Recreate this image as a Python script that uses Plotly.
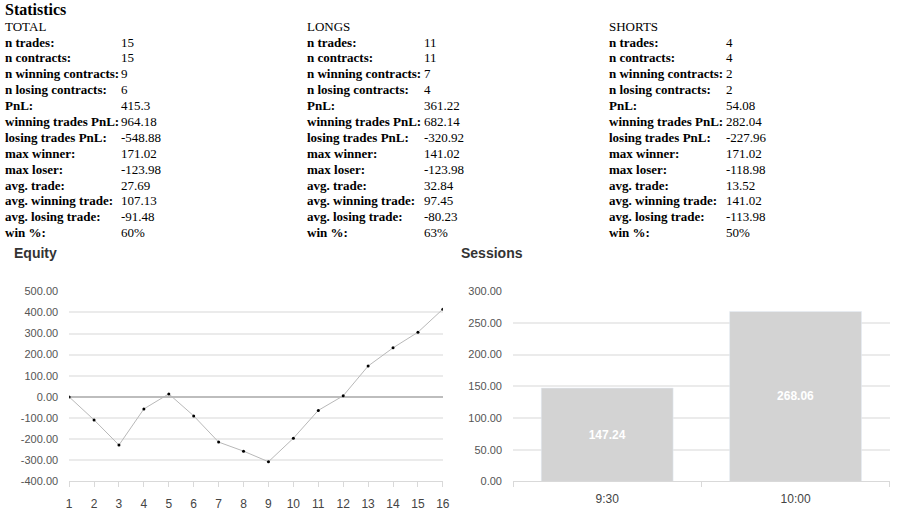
import plotly.graph_objects as go

W, H = 905, 522

# Statistics table
stat_labels = ["n trades:", "n contracts:", "n winning contracts:", "n losing contracts:", "PnL:",
               "winning trades PnL:", "losing trades PnL:", "max winner:", "max loser:",
               "avg. trade:", "avg. winning trade:", "avg. losing trade:", "win %:"]
total_values = ["15", "15", "9", "6", "415.3", "964.18", "-548.88", "171.02", "-123.98",
                "27.69", "107.13", "-91.48", "60%"]
long_values = ["11", "11", "7", "4", "361.22", "682.14", "-320.92", "141.02", "-123.98",
               "32.84", "97.45", "-80.23", "63%"]
short_values = ["4", "4", "2", "2", "54.08", "282.04", "-227.96", "171.02", "-118.98",
                "13.52", "141.02", "-113.98", "50%"]
group_names = ["TOTAL", "LONGS", "SHORTS"]

# Equity curve
trade_no = list(range(1, 17))
equity = [0, -108.98, -227.96, -56.94, 14.06, -89.94, -213.92, -256.92, -306.92,
          -195.90, -63.90, 5.10, 146.12, 232.12, 306.12, 415.3]
equity_ticks = [-400, -300, -200, -100, 0, 100, 200, 300, 400, 500]

# Sessions
sessions = ["9:30", "10:00"]
session_pnl = [147.24, 268.06]
session_ticks = [0, 50, 100, 150, 200, 250, 300]


# target pixel in the photo -> paper fraction (photo is slightly scaled and shifted ~3px)
def px(x):
    return max((x - 3.0) / 0.987, 0) / W


def py(y):
    return 1 - (y - 3.2) / 0.984 / H


fig = go.Figure()

fig.add_trace(go.Scatter(
    x=trade_no, y=equity, mode="lines+markers",
    line=dict(color="#b8b8b8", width=1),
    marker=dict(color="#000000", size=3),
    xaxis="x", yaxis="y", showlegend=False, hoverinfo="x+y"))

fig.add_trace(go.Bar(
    x=sessions, y=session_pnl, marker=dict(color="#d3d3d3"),
    text=["<b>%.2f</b>" % v for v in session_pnl], textposition="inside",
    insidetextanchor="middle",
    textfont=dict(color="white", size=12, family="Liberation Sans, Arial"),
    width=0.7, xaxis="x2", yaxis="y2", showlegend=False))

serif = dict(family="Liberation Serif", size=13, color="#000")
annotations = []


def add_text(text, x, y, font):
    annotations.append(dict(text=text, x=px(x - 3), y=py(y - 2), xref="paper", yref="paper",
                            showarrow=False, xanchor="left", yanchor="middle", font=font))


add_text("<b>Statistics</b>", 5, 9, dict(family="Liberation Serif", size=16, color="#000"))
col_x = [5, 307, 609]
cols = [total_values, long_values, short_values]
for gx, name, vals in zip(col_x, group_names, cols):
    add_text(name, gx, 25.5, serif)
    for i, (lab, v) in enumerate(zip(stat_labels, vals)):
        yy = 41.5 + 16 * i
        add_text("<b>" + lab + "</b>", gx, yy, serif)
        add_text(v, gx + 117, yy, serif)

for title, tx in [("Equity", 15), ("Sessions", 461)]:
    add_text("<b>" + title + "</b>", tx, 254,
             dict(family="Liberation Sans, Arial", size=14, color="#333"))

tickfont = dict(family="Liberation Sans, Arial", size=11, color="#555")
xtickfont = dict(family="Liberation Sans, Arial", size=12, color="#444")
plot_top, plot_bot = 290.5, 482

fig.update_layout(
    width=W, height=H,
    margin=dict(l=0, r=0, t=0, b=0),
    paper_bgcolor="white", plot_bgcolor="white",
    annotations=annotations,
    xaxis=dict(domain=[px(69), px(442)], range=[1, 16], tickmode="array",
               tickvals=trade_no, showgrid=False, zeroline=False,
               showline=True, linecolor="#d9d9d9", linewidth=1,
               ticks="outside", ticklen=5, tickcolor="#d9d9d9",
               ticklabelstandoff=6, tickfont=xtickfont),
    yaxis=dict(domain=[py(plot_bot), py(plot_top)], range=[-400, 500],
               tickmode="array", tickvals=equity_ticks,
               ticktext=["%.2f" % v for v in equity_ticks],
               showgrid=True, gridcolor="#ebebeb", gridwidth=1.5,
               zeroline=True, zerolinecolor="#bdbdbd", zerolinewidth=2,
               ticks="", ticklabelstandoff=10, tickfont=tickfont, anchor="x"),
    xaxis2=dict(domain=[px(512), px(888)], type="category", tickson="boundaries",
                showgrid=False, showline=True, linecolor="#d9d9d9", linewidth=1,
                ticks="outside", ticklen=5, tickcolor="#d9d9d9",
                ticklabelstandoff=6, tickfont=xtickfont, anchor="y2"),
    yaxis2=dict(domain=[py(plot_bot), py(plot_top)], range=[0, 300],
                tickmode="array", tickvals=session_ticks,
                ticktext=["%.2f" % v for v in session_ticks],
                showgrid=True, gridcolor="#ebebeb", gridwidth=1.5,
                zeroline=False, ticks="", ticklabelstandoff=10, tickfont=tickfont,
                anchor="x2"),
)

# drop the page's default body margin so the figure sits at the window corner
fig.write_html("out.html", config={"displayModeBar": False},
               post_script="document.body.style.margin = '0';")
